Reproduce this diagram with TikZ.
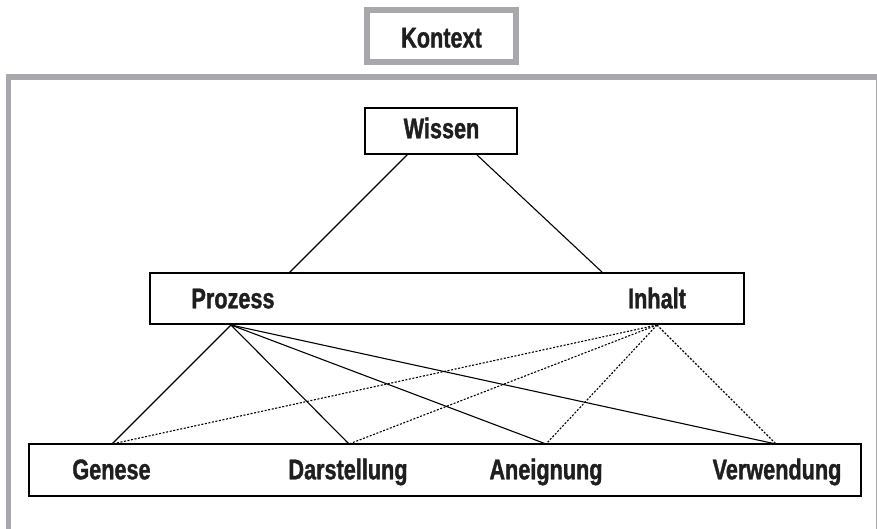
\documentclass[tikz,border=0pt]{standalone}
\usepackage{fontspec}
\setmainfont[FakeStretch=0.76, BoldFeatures={FakeBold=1.2}]{Liberation Sans}
\begin{document}
\begin{tikzpicture}[x=1pt,y=-1pt,
  kgray/.style={draw={rgb,255:red,168;green,168;blue,172}, line width=5.5pt},
  bbox/.style={draw=black, line width=1.4pt, fill=white},
  lbl/.style={font=\fontsize{28.5}{30}\selectfont\bfseries, inner sep=0pt, anchor=base, text=black!88},
  solidc/.style={draw=black, line width=1.1pt},
  dotc/.style={draw=black, line width=1.1pt, dash pattern=on 2pt off 1.6pt}]
\useasboundingbox (0,0) rectangle (877,528);
\clip (0,0) rectangle (877,528);
\fill[white] (0,0) rectangle (877,528);
% outer context frame
\draw[kgray] (8.5,77) rectangle (879,560);
% Kontext box
\draw[kgray] (367,10) rectangle (516,62);
\node[lbl] (kontext) at (441.5,47.5) {Kontext};
% Wissen
\draw[bbox] (365,108) rectangle (517,154);
\node[lbl] (wissen) at (441.5,138.3) {Wissen};
\coordinate (wl) at (408,154);
\coordinate (wr) at (476,154);
% Prozess / Inhalt
\draw[bbox] (150,273) rectangle (744,324);
\node[lbl] (prozess) at (233,308.3) {Prozess};
\node[lbl] (inhalt) at (657,308.3) {Inhalt};
\coordinate (pl) at (289,273);
\coordinate (pr) at (603,273);
\coordinate (pa) at (231,325);
\coordinate (ia) at (657,325);
% bottom box
\draw[bbox] (29,444) rectangle (861,496);
\node[lbl] (genese) at (111.5,479.3) {Genese};
\node[lbl] (darst) at (348,479.3) {Darstellung};
\node[lbl] (aneig) at (546,479.3) {Aneignung};
\node[lbl] (verw) at (777,479.3) {Verwendung};
\coordinate (g) at (112,444);
\coordinate (d) at (349,444);
\coordinate (a) at (546,444);
\coordinate (v) at (776,444);
% connectors
\draw[solidc] (wl) -- (pl);
\draw[solidc] (wr) -- (pr);
\foreach \t in {g,d,a,v} {
  \draw[solidc] (pa) -- (\t);
  \draw[dotc] (ia) -- (\t);
}
\end{tikzpicture}
\end{document}
